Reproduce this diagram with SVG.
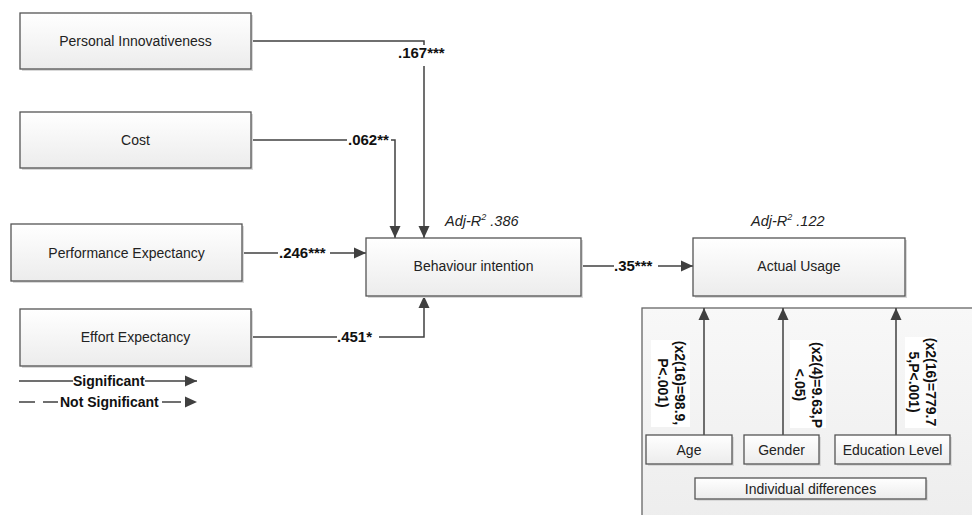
<svg xmlns="http://www.w3.org/2000/svg" width="972" height="515" viewBox="0 0 972 515">
<style>
.box{fill:url(#g);stroke:#555;stroke-width:1.3}
.sh{fill:#d9d9d9}
.lbl{font-family:"Liberation Sans",Arial,sans-serif;font-size:14px;fill:#222;text-anchor:middle}
.b{font-family:"Liberation Sans",Arial,sans-serif;font-size:15px;font-weight:bold;fill:#111}
.lg{font-family:"Liberation Sans",Arial,sans-serif;font-size:14px;font-weight:bold;fill:#111}
.it{font-family:"Liberation Sans",Arial,sans-serif;font-size:14.5px;font-style:italic;fill:#222}
.c{fill:none;stroke:#404040;stroke-width:1.5}
.rt{font-family:"Liberation Sans",Arial,sans-serif;font-size:14px;font-weight:bold;fill:#111;text-anchor:middle}
</style>
<defs>
<linearGradient id="g" x1="0" y1="0" x2="0" y2="1"><stop offset="0" stop-color="#ffffff"/><stop offset="1" stop-color="#ececec"/></linearGradient>
<linearGradient id="g2" x1="0" y1="0" x2="0" y2="1"><stop offset="0" stop-color="#f8f8f8"/><stop offset="1" stop-color="#ededed"/></linearGradient>
<marker id="a" markerUnits="userSpaceOnUse" markerWidth="12" markerHeight="12" viewBox="0 0 12 12" refX="12" refY="6" orient="auto"><path d="M0,0.5 L12,6 L0,11.5 Z" fill="#404040"/></marker>
</defs>

<g id="individual-differences-group">
<rect x="642" y="308" width="340" height="220" fill="url(#g2)" stroke="#666" stroke-width="1.3"/>
</g>

<g id="connectors">
<path class="c" d="M251,41 H424 V45"/>
<path class="c" d="M424,66 V238" marker-end="url(#a)"/>
<path class="c" d="M251,140 H347"/>
<path class="c" d="M391,140 H395 V238" marker-end="url(#a)"/>
<path class="c" d="M242,253 H278"/>
<path class="c" d="M330,253 H366" marker-end="url(#a)"/>
<path class="c" d="M251,337 H337"/>
<path class="c" d="M379,337 H424 V296" marker-end="url(#a)"/>
<path class="c" d="M581,266 H614"/>
<path class="c" d="M658,266 H693" marker-end="url(#a)"/>
<path class="c" d="M704,435 V308" marker-end="url(#a)"/>
<path class="c" d="M783,435 V308" marker-end="url(#a)"/>
<path class="c" d="M896,435 V308" marker-end="url(#a)"/>
<text class="b" x="398" y="58">.167***</text>
<text class="b" x="348" y="145">.062**</text>
<text class="b" x="279" y="258">.246***</text>
<text class="b" x="337" y="342">.451*</text>
<text class="b" x="614" y="271">.35***</text>
</g>

<g id="legend">
<path class="c" d="M19,381 H73"/>
<text class="lg" x="73" y="386">Significant</text>
<path class="c" d="M145,381 H197" marker-end="url(#a)"/>
<path class="c" d="M19,402 H35 M43,402 H58"/>
<text class="lg" x="60" y="407">Not Significant</text>
<path class="c" d="M162,402 H181"/>
<path d="M185,396.5 L197,402 L185,407.5 Z" fill="#404040"/>
</g>

<g id="node-pi">
<rect class="sh" x="22" y="15" width="231" height="56"/>
<rect class="box" x="20" y="13" width="231" height="56"/>
<text class="lbl" x="135.5" y="46">Personal Innovativeness</text>
</g>
<g id="node-cost">
<rect class="sh" x="22" y="114" width="231" height="56"/>
<rect class="box" x="20" y="112" width="231" height="56"/>
<text class="lbl" x="135.5" y="145">Cost</text>
</g>
<g id="node-pe">
<rect class="sh" x="13" y="226" width="231" height="57"/>
<rect class="box" x="11" y="224" width="231" height="57"/>
<text class="lbl" x="126.5" y="258">Performance Expectancy</text>
</g>
<g id="node-ee">
<rect class="sh" x="22" y="311" width="231" height="57"/>
<rect class="box" x="20" y="309" width="231" height="57"/>
<text class="lbl" x="135.5" y="342">Effort Expectancy</text>
</g>
<g id="node-bi">
<rect class="sh" x="368" y="240" width="215" height="58"/>
<rect class="box" x="366" y="238" width="215" height="58"/>
<text class="lbl" x="473.5" y="271">Behaviour intention</text>
<text class="it" x="445" y="226">Adj-R<tspan font-size="9" dy="-6">2</tspan><tspan dy="6"> .386</tspan></text>
</g>
<g id="node-au">
<rect class="sh" x="695" y="240" width="212" height="58"/>
<rect class="box" x="693" y="238" width="212" height="58"/>
<text class="lbl" x="799" y="271">Actual Usage</text>
<text class="it" x="751" y="226">Adj-R<tspan font-size="9" dy="-6">2</tspan><tspan dy="6"> .122</tspan></text>
</g>

<g id="label-age">
<rect x="651" y="340" width="39" height="87" fill="#ffffff"/>
<text class="rt" transform="translate(675,383) rotate(90)"><tspan x="0" y="0">(x2(16)=98.9,</tspan><tspan x="0" y="17">P&lt;.001)</tspan></text>
</g>
<g id="label-gender">
<rect x="790" y="340" width="36" height="88" fill="#ffffff"/>
<text class="rt" transform="translate(812,385) rotate(90)"><tspan x="0" y="0">(x2(4)=9.63,P</tspan><tspan x="0" y="17">&lt;.05)</tspan></text>
</g>
<g id="label-edu">
<rect x="905" y="337" width="32" height="91" fill="#ffffff"/>
<text class="rt" transform="translate(926,382) rotate(90)"><tspan x="0" y="0">(x2(16)=779.7</tspan><tspan x="0" y="17">5,P&lt;.001)</tspan></text>
</g>

<g id="node-age">
<rect class="sh" x="648" y="437" width="86" height="29"/>
<rect class="box" x="646" y="435" width="86" height="29"/>
<text class="lbl" x="689" y="455">Age</text>
</g>
<g id="node-gender">
<rect class="sh" x="746" y="437" width="75" height="29"/>
<rect class="box" x="744" y="435" width="75" height="29"/>
<text class="lbl" x="781.5" y="455">Gender</text>
</g>
<g id="node-edu">
<rect class="sh" x="837" y="437" width="115" height="29"/>
<rect class="box" x="835" y="435" width="115" height="29"/>
<text class="lbl" x="892.5" y="455">Education Level</text>
</g>
<g id="node-indiv">
<rect class="sh" x="697" y="480" width="231" height="21"/>
<rect class="box" x="695" y="478" width="231" height="21"/>
<text class="lbl" x="810.5" y="494">Individual differences</text>
</g>
</svg>
